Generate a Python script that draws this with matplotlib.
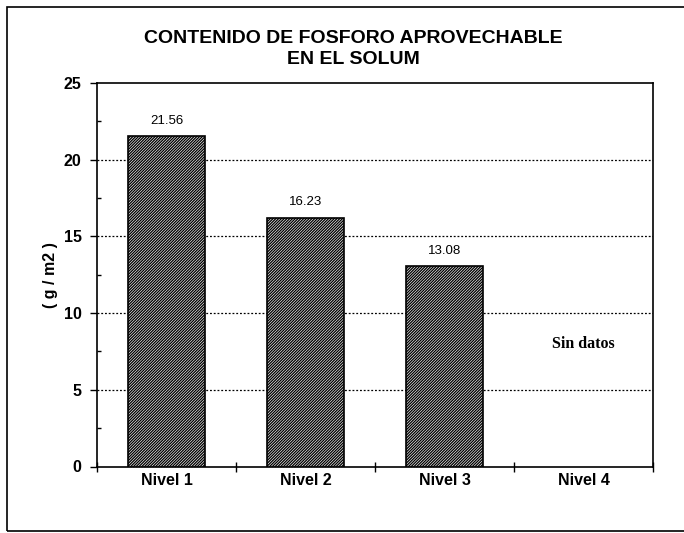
import matplotlib
matplotlib.use("Agg")
import matplotlib.pyplot as plt
import numpy as np
from matplotlib.patches import Rectangle

plt.rcParams['font.family'] = ['Liberation Sans', 'DejaVu Sans']
plt.rcParams['hatch.linewidth'] = 0.95

# datos
niveles = ["Nivel 1", "Nivel 2", "Nivel 3", "Nivel 4"]
fosforo = [21.56, 16.23, 13.08]
etiquetas = ["21.56", "16.23", "13.08"]
titulo = "CONTENIDO DE FOSFORO APROVECHABLE\nEN EL SOLUM"

fig = plt.figure(figsize=(6.84, 5.33), dpi=100)
ax = fig.add_axes([97/684, 1-466.5/533, 556/684, 383.5/533])

x = np.arange(len(fosforo))
ax.bar(x, fosforo, width=0.55, color="white", edgecolor="black",
       hatch="////////////", linewidth=1.2, zorder=3)

for xi, v, t in zip(x, fosforo, etiquetas):
    ax.text(xi, v + 0.6, t, ha="center", va="bottom", fontsize=9.5)

ax.text(3, 8, "Sin datos", ha="center", va="center", fontsize=11.5,
        fontweight="bold", family=["Liberation Serif", "DejaVu Serif"])

ax.set_xlim(-0.5, 3.5)
ax.set_ylim(0, 25)
ax.set_yticks([0, 5, 10, 15, 20, 25])
ax.set_yticks(np.arange(2.5, 25, 5), minor=True)
ax.set_xticks(np.arange(len(niveles)))
ax.set_xticklabels(niveles, fontweight="bold", fontsize=11.5)
ax.set_xticks(np.arange(-0.5, 4, 1), minor=True)
for lab in ax.get_yticklabels():
    lab.set_fontweight("bold")
    lab.set_fontsize(11.5)

ax.tick_params(axis="x", which="major", length=0, pad=5)
ax.tick_params(axis="x", which="minor", direction="inout", length=7, width=1)
ax.tick_params(axis="y", which="major", direction="out", length=5, width=1, pad=6)
ax.tick_params(axis="y", which="minor", direction="in", length=3, width=1)

for yv in [5, 10, 15, 20]:
    ax.axhline(yv, color="black", linestyle=(0, (1.5, 1.5)), linewidth=0.9, zorder=1)

for s in ax.spines.values():
    s.set_linewidth(1.2)

ax.set_ylabel("( g / m2 )", fontweight="bold", fontsize=11.5, labelpad=4)

fig.text(353/684, 1-49/533, titulo, ha="center", va="center", fontsize=14,
         fontweight="bold", linespacing=1.25)

# marco exterior
fig.patches.append(Rectangle((7/684, 2/533), 1.0, 524/533, transform=fig.transFigure,
                             fill=False, edgecolor="black", linewidth=1.2))

fig.savefig("out.png", dpi=100)
